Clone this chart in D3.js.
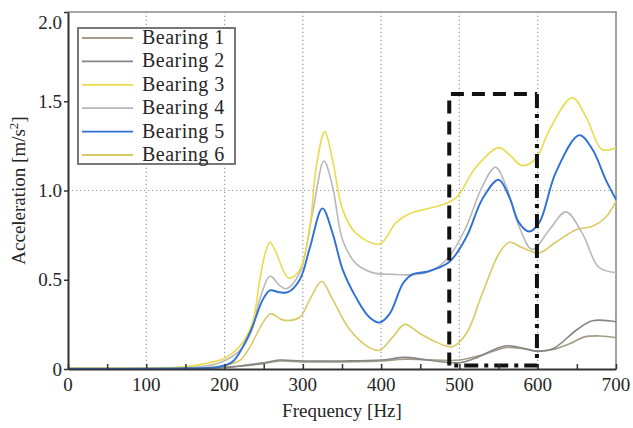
<!DOCTYPE html>
<html>
<head>
<meta charset="utf-8">
<script src="https://d3js.org/d3.v7.min.js"></script>
<style>
  body { margin: 0; background: #fff; }
  svg text { font-family: "Liberation Serif", "Times New Roman", "DejaVu Serif", serif !important; fill: #262626; }
</style>
</head>
<body>
<script>
// data: [frequency Hz, acceleration m/s2]
var bearing1 = [[0,0.003],[150,0.004],[200,0.01],[250,0.03],[270,0.045],[300,0.04],[350,0.04],[400,0.045],[430,0.055],[470,0.05],[500,0.05],[530,0.08],[560,0.12],[580,0.115],[600,0.10],[620,0.11],[640,0.14],[660,0.18],[680,0.185],[700,0.175]];
var bearing2 = [[0,0.002],[150,0.003],[200,0.008],[250,0.035],[270,0.05],[300,0.045],[350,0.045],[400,0.05],[430,0.065],[460,0.05],[500,0.035],[520,0.06],[560,0.13],[600,0.10],[620,0.115],[650,0.22],[670,0.27],[700,0.265]];
var bearing3 = [[0,0.005],[100,0.006],[150,0.012],[175,0.03],[200,0.06],[220,0.13],[235,0.25],[245,0.50],[252,0.65],[258,0.71],[265,0.66],[282,0.51],[296,0.555],[309,0.80],[317,1.13],[328,1.33],[338,1.17],[351,0.89],[368,0.76],[398,0.70],[419,0.82],[436,0.87],[478,0.92],[496,0.96],[521,1.13],[550,1.24],[564,1.20],[580,1.14],[598,1.18],[615,1.34],[644,1.52],[662,1.41],[682,1.23],[700,1.24]];
var bearing4 = [[0,0.003],[150,0.005],[190,0.03],[210,0.07],[223,0.12],[235,0.22],[245,0.39],[258,0.52],[270,0.47],[279,0.45],[296,0.54],[313,0.89],[327,1.165],[338,1.02],[351,0.72],[368,0.59],[389,0.54],[415,0.53],[445,0.53],[466,0.555],[487,0.63],[509,0.80],[529,1.02],[546,1.13],[560,1.02],[576,0.80],[593,0.67],[615,0.78],[636,0.88],[657,0.76],[678,0.57],[700,0.54]];
var bearing5 = [[0,0.002],[150,0.004],[190,0.01],[210,0.04],[232,0.20],[249,0.39],[258,0.44],[270,0.43],[281,0.43],[296,0.50],[309,0.68],[325,0.90],[338,0.76],[351,0.555],[368,0.40],[385,0.29],[398,0.26],[411,0.31],[428,0.48],[440,0.53],[458,0.545],[487,0.60],[509,0.74],[529,0.95],[550,1.06],[564,0.96],[576,0.82],[589,0.77],[602,0.82],[623,1.10],[653,1.31],[670,1.23],[687,1.06],[700,0.95]];
var bearing6 = [[0,0.003],[150,0.005],[200,0.02],[220,0.05],[232,0.12],[249,0.26],[259,0.31],[274,0.275],[296,0.29],[309,0.39],[324,0.49],[338,0.39],[360,0.22],[385,0.12],[398,0.105],[415,0.18],[430,0.25],[449,0.20],[466,0.16],[491,0.125],[509,0.20],[529,0.42],[551,0.65],[564,0.71],[580,0.68],[602,0.65],[623,0.71],[649,0.78],[670,0.80],[687,0.85],[700,0.94]];

var names = ["Bearing 1","Bearing 2","Bearing 3","Bearing 4","Bearing 5","Bearing 6"];
var colors = ["#a59c86","#858585","#e8dc4c","#bab6ba","#2f6fd6","#d8ca62"];
var xTicks = [0,100,200,300,400,500,600,700];
var yTicks = [0,0.5,1.0,1.5,2.0];
var yTickLabels = ["0","0.5","1.0","1.5","2.0"];
var box = {f0:487, f1:599, v0:0.02, v1:1.54};   // dashed frame

var series = [bearing1,bearing2,bearing3,bearing4,bearing5,bearing6];

var W=633, H=428;
var m={left:68, right:17, top:12, bottom:59};
var serif='"Liberation Serif", "Times New Roman", serif';

var svg=d3.select('body').append('svg')
          .attr('width',W)
          .attr('height',H)
          .attr('font-family',serif);

var x=d3.scaleLinear().domain([0,700]).range([m.left,W-m.right]);
var y=d3.scaleLinear().domain([0,2]).range([H-m.bottom,m.top]);

// grid
svg.append('g').selectAll('line')
   .data([100,200,300,400,500,600,700])
   .enter().append('line')
   .attr('x1',d=>x(d)).attr('x2',d=>x(d))
   .attr('y1',y(0)).attr('y2',y(2))
   .attr('stroke','#999').attr('stroke-width',1.2)
   .attr('stroke-dasharray','1.2,2.8');
svg.append('line')
   .attr('x1',x(0)).attr('x2',x(700))
   .attr('y1',y(1)).attr('y2',y(1))
   .attr('stroke','#999').attr('stroke-width',1.2)
   .attr('stroke-dasharray','1.2,2.8');

// frame top/right
svg.append('path')
   .attr('d','M'+x(0)+','+y(2)+'H'+x(700)+'V'+y(0))
   .attr('fill','none').attr('stroke','#8a8a8a').attr('stroke-width',1.5);

// curves
var line=d3.line().x(d=>x(d[0])).y(d=>y(d[1])).curve(d3.curveCatmullRom.alpha(0.5));
var order=[5,0,1,3,2,4];
order.forEach(function(i){
  svg.append('path')
     .datum(series[i])
     .attr('d',line)
     .attr('fill','none')
     .attr('stroke',colors[i])
     .attr('stroke-width',i==4?1.9:1.6);
});

// dashed frame
svg.append('path')
   .attr('d','M'+x(box.f0)+','+y(box.v0)+'V'+y(box.v1)+'H'+x(box.f1))
   .attr('fill','none').attr('stroke','#111').attr('stroke-width',4)
   .attr('stroke-dasharray','13,8');
svg.append('path')
   .attr('d','M'+x(box.f1)+','+y(box.v1)+'V'+y(box.v0)+'H'+x(box.f0))
   .attr('fill','none').attr('stroke','#111').attr('stroke-width',4)
   .attr('stroke-dasharray','14,6,4,6');

// axes
var xAxis=svg.append('g').attr('transform','translate(0,'+y(0)+')')
   .call(d3.axisBottom(x).tickValues(d3.range(0,701,50)).tickSizeInner(-5).tickSizeOuter(0).tickFormat(''));
xAxis.select('.domain').attr('stroke','#333').attr('stroke-width',2);
xAxis.selectAll('.tick line').attr('stroke','#333').attr('stroke-width',1.5);

svg.append('g').selectAll('text')
   .data(xTicks).enter().append('text')
   .attr('x',d=>x(d)).attr('y',y(0)+22)
   .attr('text-anchor','middle')
   .style('font-size','19px')
   .text(d=>d);

var yAxis=svg.append('g').attr('transform','translate('+x(0)+',0)')
   .call(d3.axisLeft(y).tickValues(yTicks).tickSizeInner(4).tickSizeOuter(0).tickFormat((d,i)=>yTickLabels[i]));
yAxis.attr('font-family',serif);
yAxis.select('.domain').attr('stroke','#333').attr('stroke-width',2);
yAxis.selectAll('.tick line').attr('stroke','#333').attr('stroke-width',1.5);
yAxis.selectAll('.tick text')
   .style('font-size','19px')
   .attr('x',-6);
yAxis.selectAll('.tick').filter(d=>d==2).select('text').attr('dy','0.85em');

// axis titles
svg.append('text')
   .attr('x',(x(0)+x(700))/2).attr('y',417)
   .attr('text-anchor','middle')
   .style('font-size','19px')
   .text('Frequency [Hz]');
svg.append('text')
   .attr('transform','translate(25,'+y(1)+') rotate(-90)')
   .attr('text-anchor','middle')
   .style('font-size','19px')
   .html('Acceleration [m/s<tspan dy="-7" font-size="13">2</tspan><tspan dy="7">]</tspan>');

// legend
var lg=svg.append('g');
lg.append('rect')
  .attr('x',78).attr('y',28).attr('width',157).attr('height',136)
  .attr('fill','#fff').attr('stroke','#777').attr('stroke-width',2);
names.forEach(function(n,i){
  var yy=38+i*23.4;
  lg.append('line').attr('x1',82).attr('x2',133).attr('y1',yy).attr('y2',yy)
    .attr('stroke',colors[i]).attr('stroke-width',1.8);
  lg.append('text').attr('x',142).attr('y',yy+6)
    .style('font-size','20px').style('letter-spacing','0.5px')
    .text(n);
});
</script>
</body>
</html>
